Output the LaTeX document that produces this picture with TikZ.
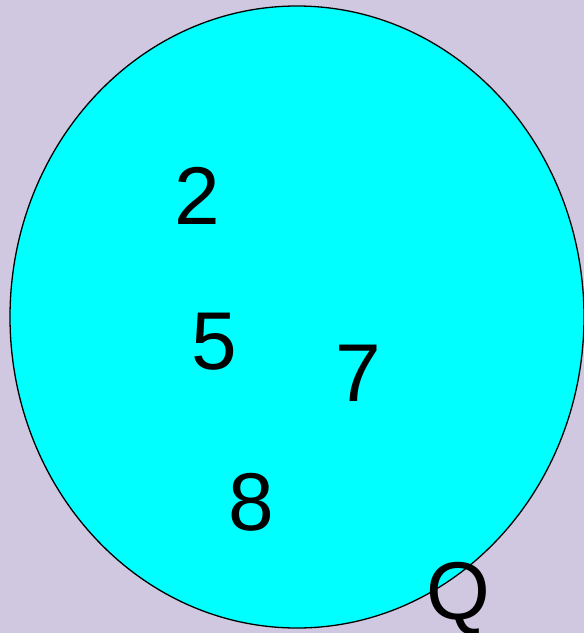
\documentclass[tikz,border=0pt]{standalone}
\usepackage{fontspec}
\setmainfont{Liberation Sans}
\definecolor{bgl}{HTML}{D0C8E0}
\definecolor{cyn}{HTML}{00FFFF}
\begin{document}
\begin{tikzpicture}[x=1pt,y=-1pt,
  lbl/.style={inner sep=0pt,font=\fontsize{82}{90}\selectfont}]
\useasboundingbox (0,0) rectangle (584,633);
\fill[bgl] (0,0) rectangle (584,633);
\begin{scope}
\clip (0,0) rectangle (584,633);
\draw[fill=cyn,line width=1.3pt] (297,317) ellipse [x radius=287, y radius=311];
\end{scope}
\node[lbl] (n2) at (197,196) {2};
\node[lbl] (n5) at (214,342) {5};
\node[lbl] (n7) at (358,373) {7};
\node[lbl] (n8) at (251,502) {8};
\node[lbl] (q) at (458,599) {Q};
\end{tikzpicture}
\end{document}
